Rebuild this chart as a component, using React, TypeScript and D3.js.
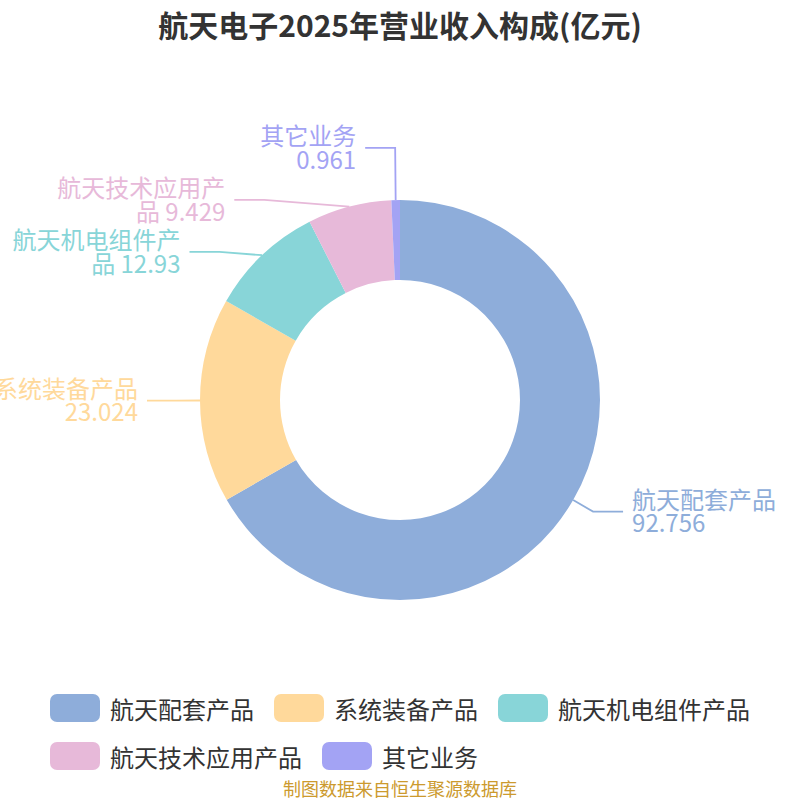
import React from 'react';
import * as d3 from 'd3';

const categories = ['航天配套产品', '系统装备产品', '航天机电组件产品', '航天技术应用产品', '其它业务'];
const values = [92.756, 23.024, 12.93, 9.429, 0.961];
const colors = ['#8EADDA', '#FFD99B', '#88D5D8', '#E7B9D9', '#A3A3F4'];
const titleText = '航天电子2025年营业收入构成(亿元)';
const sourceText = '制图数据来自恒生聚源数据库';

const W = 800;
const H = 800;
const FONT = '"Noto Sans CJK SC", "Noto Sans", sans-serif';

let ctx: CanvasRenderingContext2D | null = null;
function measure(text: string, size: number, weight = 'normal') {
  if (!ctx) ctx = document.createElement('canvas').getContext('2d');
  if (!ctx) return text.length * size;
  ctx.font = `${weight} ${size}px ${FONT}`;
  return ctx.measureText(text).width;
}

export default function App() {
  const cx = 400, cy = 400;
  const rOuter = 200, rInner = 120;
  const len = 23, len2 = 30, textGap = 9;
  const labelSize = 24, lineH = 23.5, blockH = 52;
  const maxLabelW = 170;

  const pie = d3.pie<number>().sort(null).value((d) => d).startAngle(0).endAngle(Math.PI * 2);
  const arcs = pie(values);
  const arcGen = d3.arc<d3.PieArcDatum<number>>().innerRadius(rInner).outerRadius(rOuter);

  const rA = rOuter + len;
  type Item = {
    i: number; mid: number; dir: number; px: number; py: number;
    x0: number; y0: number; x: number; y: number;
  };
  const items: Item[] = arcs.map((a, i) => {
    const mid = (a.startAngle + a.endAngle) / 2;
    const s = Math.sin(mid), c = Math.cos(mid);
    const x0 = cx + rA * s, y0 = cy - rA * c;
    return {
      i, mid, dir: s >= 0 ? 1 : -1,
      px: cx + rOuter * s, py: cy - rOuter * c,
      x0, y0, x: x0, y: y0,
    };
  });

  const resolveSide = (list: Item[]) => {
    list.sort((a, b) => a.y0 - b.y0);
    let clusters = list.map((it) => ({ items: [it], top: it.y0 }));
    let merged = true;
    while (merged) {
      merged = false;
      for (let k = 0; k < clusters.length - 1; k++) {
        const a = clusters[k], b = clusters[k + 1];
        const aBottom = a.top + (a.items.length - 1) * blockH;
        if (b.top - aBottom < blockH) {
          const all = a.items.concat(b.items);
          const mean = d3.mean(all, (d) => d.y0) as number;
          clusters.splice(k, 2, { items: all, top: mean - ((all.length - 1) * blockH) / 2 });
          merged = true;
          break;
        }
      }
    }
    clusters.forEach((cl) => cl.items.forEach((it, k) => (it.y = cl.top + k * blockH)));
    // recalc x on an ellipse per semicircle, as a pie label layout does
    [list.filter((d) => d.y < cy), list.filter((d) => d.y >= cy)].forEach((semi) => {
      if (!semi.some((d) => Math.abs(d.y - d.y0) > 0.5)) return;
      let top = semi[0];
      semi.forEach((d) => { if (Math.abs(d.y - cy) > Math.abs(top.y - cy)) top = d; });
      const dyT = Math.abs(top.y - cy);
      const dxT = top.x0 - cx;
      const rB = Math.abs(dxT) < rA ? dyT / Math.sqrt(1 - (dxT * dxT) / (rA * rA)) : rA;
      semi.forEach((d) => {
        const dy = Math.abs(d.y - cy);
        const dx = rA * Math.sqrt(Math.max(0, 1 - (dy * dy) / (rB * rB)));
        d.x = cx + d.dir * dx;
      });
    });
  };
  resolveSide(items.filter((d) => d.dir < 0));
  resolveSide(items.filter((d) => d.dir > 0));
  items.sort((a, b) => a.i - b.i);

  const labelLines = (name: string, value: number) => {
    const lines: string[] = [];
    let cur = '';
    for (const ch of name) {
      if (cur && measure(cur + ch, labelSize) > maxLabelW) {
        lines.push(cur);
        cur = ch;
      } else cur += ch;
    }
    lines.push(cur);
    if (lines.length > 1) lines[lines.length - 1] += ' ' + String(value);
    else lines.push(String(value));
    return lines;
  };

  // legend layout
  const legendSize = 24, rectW = 50, rectH = 28, rectTextGap = 10, itemGap = 20, legendMaxW = 720;
  const legendItems = categories.map((c, i) => ({ c, i, w: rectW + rectTextGap + measure(c, legendSize) }));
  const rows: typeof legendItems[] = [];
  let row: typeof legendItems = [];
  let rowW = 0;
  legendItems.forEach((it) => {
    const add = row.length ? itemGap + it.w : it.w;
    if (row.length && rowW + add > legendMaxW) {
      rows.push(row);
      row = [it];
      rowW = it.w;
    } else {
      row.push(it);
      rowW += add;
    }
  });
  if (row.length) rows.push(row);
  const rowWidths = rows.map((r) => r.reduce((s, it, k) => s + it.w + (k ? itemGap : 0), 0));
  const blockW = Math.max(...rowWidths);
  const legendLeft = (W - blockW) / 2;
  const legendTop = 708, legendRowH = 48;

  return (
    <svg width={W} height={H} style={{ position: 'absolute', left: 0, top: 0, background: '#fff' }} fontFamily={FONT}>
      <text x={W / 2} y={24} textAnchor="middle" dominantBaseline="central" fontSize={30} fontWeight="bold" fill="#333">
        {titleText}
      </text>
      <g transform={`translate(${cx},${cy})`}>
        {arcs.map((a, i) => (
          <path key={i} d={arcGen(a) || ''} fill={colors[i]} />
        ))}
      </g>
      {items.map((it) => {
        const endX = it.x + it.dir * len2;
        const lines = labelLines(categories[it.i], values[it.i]);
        const tx = endX + it.dir * textGap;
        const y0 = it.y - 2 - ((lines.length - 1) * lineH) / 2;
        return (
          <g key={it.i}>
            <polyline
              points={`${it.px},${it.py} ${it.x},${it.y} ${endX},${it.y}`}
              fill="none"
              stroke={colors[it.i]}
              strokeWidth={1.8}
            />
            <text
              x={tx}
              textAnchor={it.dir > 0 ? 'start' : 'end'}
              fontSize={labelSize}
              fill={colors[it.i]}
              dominantBaseline="central"
            >
              {lines.map((l, k) => (
                <tspan key={k} x={tx} y={y0 + k * lineH}>{l}</tspan>
              ))}
            </text>
          </g>
        );
      })}
      {rows.map((r, ri) => {
        let x = legendLeft;
        const yc = legendTop + ri * legendRowH;
        return r.map((it, k) => {
          if (k) x += itemGap;
          const x0 = x;
          x += it.w;
          return (
            <g key={it.i}>
              <rect x={x0} y={yc - rectH / 2} width={rectW} height={rectH} rx={7} fill={colors[it.i]} />
              <text x={x0 + rectW + rectTextGap} y={yc} dominantBaseline="central" fontSize={legendSize} fill="#333">
                {it.c}
              </text>
            </g>
          );
        });
      })}
      <text x={W / 2} y={788} textAnchor="middle" dominantBaseline="central" fontSize={18} fill="#CC9A2E">
        {sourceText}
      </text>
    </svg>
  );
}
